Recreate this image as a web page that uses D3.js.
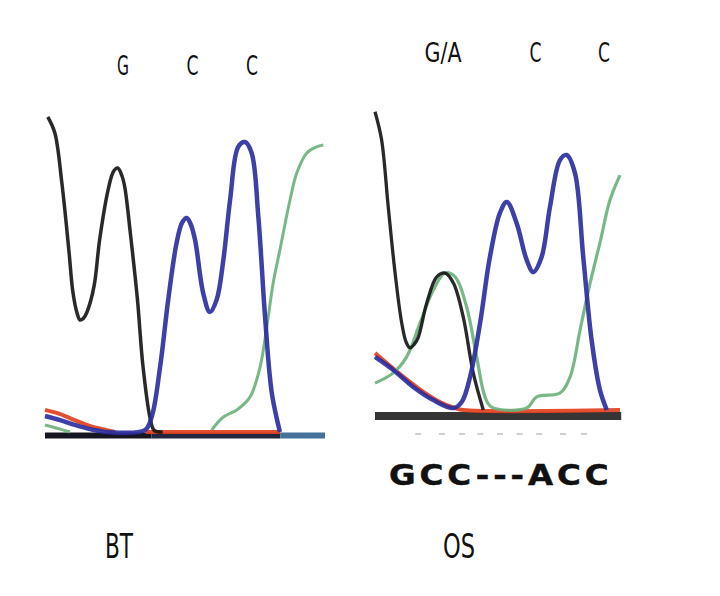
<!DOCTYPE html>
<html>
<head>
<meta charset="utf-8">
<script src="https://cdn.jsdelivr.net/npm/d3@7"></script>
<style>
  body { margin: 0; background: #fff; }
  svg { display: block; }
  .base { font-family: "Liberation Sans Narrow", "DejaVu Sans Condensed", "Roboto", sans-serif; fill: #111; }
  .seq { font-family: "DejaVu Sans", Verdana, sans-serif; font-weight: bold; fill: #111; }
</style>
</head>
<body>
<script>
(function(){

//trace data: scan position (0-100) and signal (0-1000)
//BT panel
var btBlackScan = [1, 3.5, 6, 8.5, 10, 11.5, 12.5, 13.7, 15, 17.5, 19.5, 22.5, 24.5, 26, 27.5, 28.5, 30.5, 33, 35, 37.5, 39, 42];
var btBlackSig  = [985, 935, 780, 570, 435, 370, 350, 355, 375, 455, 600, 755, 815, 825, 800, 765, 620, 415, 205, 45, 5, 0];

var btBlueScan = [0, 5.4, 10.7, 16, 19.6, 22, 35.7, 38.1, 41.1, 44, 47, 49, 50.6, 52, 53.6, 56.5, 58.9, 61.3, 63.7, 66.1, 69, 71.4, 73.8, 76.2, 78.6, 81, 83.9];
var btBlueSig  = [50, 37, 22, 9, 3, 0, 6, 47, 203, 413, 591, 655, 669, 650, 600, 434, 375, 413, 538, 725, 891, 906, 872, 672, 359, 122, 0];

var btGreenScan = [0, 5.4, 8.9, null, 59.5, 63.7, 68.5, 73.2, 76.8, 79.2, 81.5, 83.9, 87.5, 89.9, 93.5, 97, 99.4];
var btGreenSig  = [22, 9, 0, null, 6, 47, 69, 109, 203, 328, 466, 569, 725, 809, 872, 891, 897];

var btRedScan = [0, 5.4, 10.7, 16, 22, 25, null, 36, 84];
var btRedSig  = [69, 56, 37, 19, 6, 0, null, 0, 0];

//OS panel
var osBlackScan = [0, 2.7, 5.4, 8.2, 10.9, 12.8, 14.3, 16, 17.7, 21.1, 25.2, 28.6, 32, 36, 40.1, 44.2];
var osBlackSig  = [932, 844, 635, 428, 272, 210, 194, 205, 228, 334, 416, 428, 397, 291, 116, 0];

var osGreenScan = [0, 7.5, 12.9, 18.4, 23.8, 28.6, 32.7, 37.4, 41.5, 44.9, 47.6, 61.9, 66, 75.5, 79.6, 83.7, 87.8, 91.8, 95.9, 100];
var osGreenSig  = [84, 116, 166, 272, 375, 428, 416, 322, 166, 41, 9, 6, 41, 53, 103, 250, 397, 522, 656, 734];

var osBlueScan = [0, 7.5, 15.6, 23.8, 32, 35.4, 38.8, 42.9, 46.9, 51, 53.8, 57.8, 61.9, 64.6, 68, 71.4, 75.5, 78.2, 81.6, 85, 88.4, 91.8, 94.6];
var osBlueSig  = [166, 125, 72, 31, 6, 25, 103, 272, 478, 616, 650, 584, 469, 431, 478, 634, 781, 797, 741, 478, 219, 63, 0];

var osRedScan = [0, 10.2, 18.4, 26.5, 32.7, 36, 100];
var osRedSig  = [178, 112, 64, 25, 6, 0, 0];

//base calls and labels
var btCalls = ["G", "C", "C"];
var btCallScan = [27.9, 52.7, 73.9];
var osCalls = ["G/A", "C", "C"];
var osCallScan = [27.8, 65.5, 93.5];
var faintTicks = [17.6, 27.3, 35.5, 43, 51, 59, 67, 76.7, 85.3];
var seqText = "GCC---ACC";
var panelNames = ["BT", "OS"];

var width = 720, height = 596;

var svg = d3.select("body")
    .append("svg")
    .attr("width", width)
    .attr("height", height);

//soft edge, the source is a scanned figure
svg.append("defs").append("filter")
    .attr("id", "soft")
    .append("feGaussianBlur")
    .attr("stdDeviation", 0.6);

//helper to zip scan/signal arrays
function zip(xs, ys){
    return xs.map(function(x, i){ return {x: x, y: ys[i]}; });
}

var colors = {black: "#161616", blue: "#2b2f9e", green: "#6cb27c", red: "#e2401e"};

//left panel (BT)
var xL = d3.scaleLinear().domain([0, 100]).range([45, 325]);
var yL = d3.scaleLinear().domain([0, 1000]).range([432, 112]);
//right panel (OS)
var xR = d3.scaleLinear().domain([0, 100]).range([375, 620]);
var yR = d3.scaleLinear().domain([0, 1000]).range([410, 90]);

function drawPanel(x, y, traces, baseSegs, baseOff, baseW){
    var g = svg.append("g").attr("filter", "url(#soft)");
    //baseline band
    baseSegs.forEach(function(s){
        g.append("line")
            .attr("x1", x(s[0])).attr("x2", x(s[1]))
            .attr("y1", y(0) + baseOff).attr("y2", y(0) + baseOff)
            .attr("stroke", s[2])
            .attr("stroke-width", baseW);
    });
    var line = d3.line()
        .defined(function(d){ return d.x !== null; })
        .x(function(d){ return x(d.x); })
        .y(function(d){ return y(d.y); })
        .curve(d3.curveCatmullRom.alpha(0.5));
    traces.forEach(function(t){
        g.append("path")
            .datum(zip(t.scan, t.sig))
            .attr("fill", "none")
            .attr("stroke", t.color)
            .attr("stroke-width", t.w)
            .attr("stroke-linejoin", "round")
            .attr("stroke-opacity", 0.92)
            .attr("d", line);
    });
    return g;
}

drawPanel(xL, yL, [
    {scan: btGreenScan, sig: btGreenSig, color: colors.green, w: 3},
    {scan: btRedScan, sig: btRedSig, color: colors.red, w: 4},
    {scan: btBlackScan, sig: btBlackSig, color: colors.black, w: 3.5},
    {scan: btBlueScan, sig: btBlueSig, color: colors.blue, w: 4.5}
], [[0, 38, "#141420"], [38, 84, "#23263f"], [84, 100, "#44709a"]], 3.5, 6);

var gR = drawPanel(xR, yR, [
    {scan: osRedScan, sig: osRedSig, color: colors.red, w: 4},
    {scan: osGreenScan, sig: osGreenSig, color: colors.green, w: 3.2},
    {scan: osBlackScan, sig: osBlackSig, color: colors.black, w: 3.3},
    {scan: osBlueScan, sig: osBlueSig, color: colors.blue, w: 4.5}
], [[0, 100.5, "#343436"]], 6, 8);

//faint scan ticks under the OS baseline
gR.selectAll(".tick")
    .data(faintTicks)
    .enter()
    .append("line")
    .attr("x1", function(d){ return xR(d) - 3; })
    .attr("x2", function(d){ return xR(d) + 3; })
    .attr("y1", yR(0) + 24).attr("y2", yR(0) + 24)
    .attr("stroke", "#cfcfcf")
    .attr("stroke-width", 2);

//base call labels
function callLabels(calls, pos, x, yb){
    svg.selectAll(null)
        .data(calls)
        .enter()
        .append("text")
        .attr("class", "base")
        .attr("x", function(d, i){ return x(pos[i]); })
        .attr("y", yb)
        .attr("text-anchor", "middle")
        .attr("font-size", 27)
        .attr("textLength", function(d){ return d.length === 1 ? 12 : 37; })
        .attr("lengthAdjust", "spacingAndGlyphs")
        .text(function(d){ return d; });
}
callLabels(btCalls, btCallScan, xL, 75);
callLabels(osCalls, osCallScan, xR, 62);

//sequence text, wide bold face
svg.append("text")
    .attr("class", "seq")
    .attr("transform", "translate(389,485) scale(1.12,1)")
    .attr("font-size", 29)
    .attr("letter-spacing", 3.5)
    .attr("stroke", "#111")
    .attr("stroke-width", 0.5)
    .text(seqText);

//sample names
svg.selectAll(".name")
    .data(panelNames)
    .enter()
    .append("text")
    .attr("class", "base name")
    .attr("x", function(d, i){ return i === 0 ? 105 : 443; })
    .attr("y", 558)
    .attr("font-size", 34)
    .attr("textLength", function(d, i){ return i === 0 ? 28 : 32; })
    .attr("lengthAdjust", "spacingAndGlyphs")
    .text(function(d){ return d; });

})();
</script>
</body>
</html>
